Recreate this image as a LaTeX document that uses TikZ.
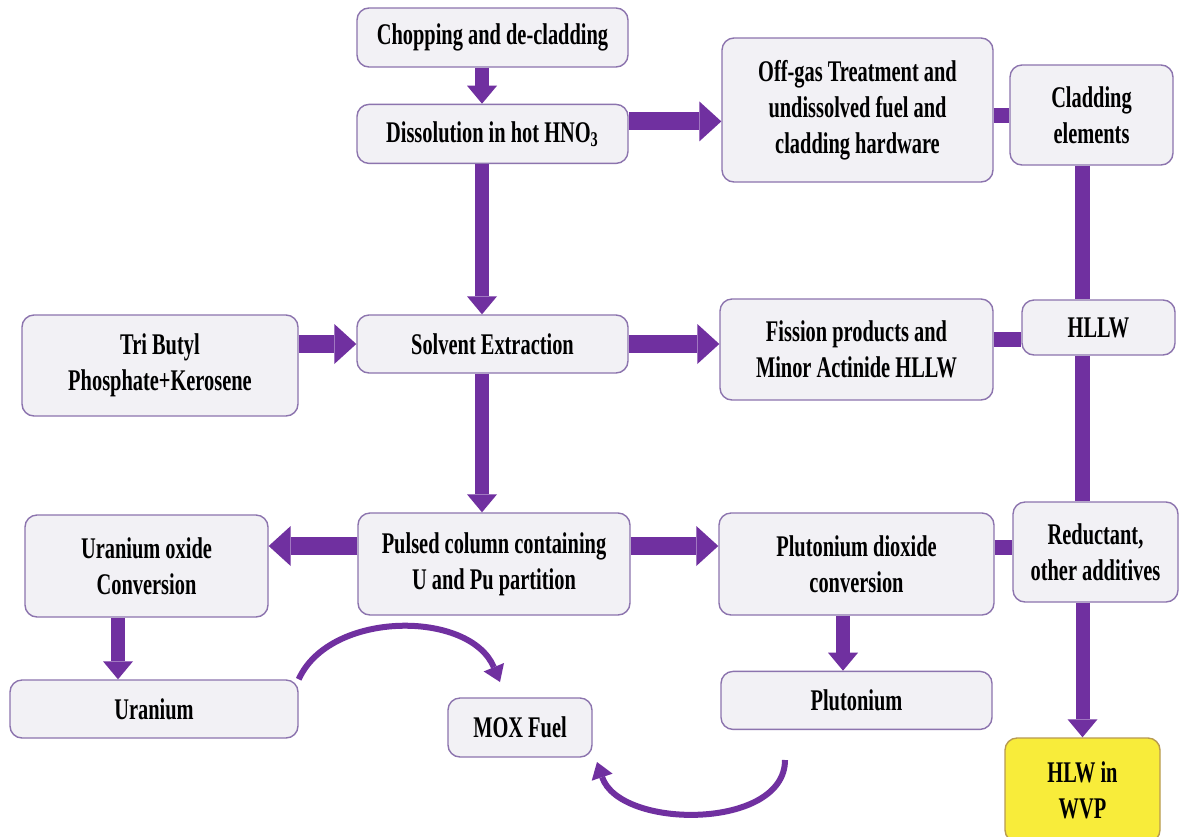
\documentclass[tikz,border=0pt]{standalone}
\usepackage{fontspec}
\setmainfont{Liberation Serif}[FakeStretch=0.68]
\usetikzlibrary{positioning,arrows.meta}
\definecolor{arr}{HTML}{7030A0}
\definecolor{boxline}{HTML}{8C74AE}
\definecolor{boxfill}{HTML}{F2F1F5}
\definecolor{hlwfill}{HTML}{F8EC3A}
\definecolor{hlwline}{HTML}{B89A50}

\begin{document}
\begin{tikzpicture}[x=0.5pt, y=-0.5pt,
  b/.style={draw=boxline, fill=boxfill, rounded corners=6pt, line width=0.7pt, align=center, inner sep=1pt, font=\fontsize{15}{18}\selectfont\bfseries},
  ha/.style={draw=arr, line width=9pt, -{Triangle[width=20pt, length=11pt, line width=0pt 0]}},
  va/.style={draw=arr, line width=7pt, -{Triangle[width=15pt, length=9pt, line width=0pt 0]}},
  bar/.style={draw=arr, line width=7.5pt},
  cv/.style={draw=arr, line width=3pt, -{Triangle[width=11pt, length=8pt, line width=0pt 0]}}]
		\path[use as bounding box, fill=white] (0,0) rectangle (1183,836);

		\node[b, minimum width=135.5pt, minimum height=29.5pt] (chop) at (492.5,37.5) {Chopping and de-cladding};
		\node[b, minimum width=135.5pt, minimum height=29.5pt, below=18pt of chop] (diss) {Dissolution in hot HNO\textsubscript{3}};
		\node[b, minimum width=135.5pt, minimum height=72pt] (offgas) at (857.5,110) {Off-gas Treatment and\\undissolved fuel and\\cladding hardware};
		\node[b, minimum width=81.5pt, minimum height=50pt] (clad) at (1091.5,115) {Cladding\\elements};
		\node[b, minimum width=138pt, minimum height=50.5pt] (tbp) at (160,365.5) {Tri Butyl\\Phosphate+Kerosene};
		\node[b, minimum width=135.5pt, minimum height=29pt] (solv) at (492.5,344) {Solvent Extraction};
		\node[b, minimum width=136.5pt, minimum height=50.5pt] (fiss) at (856.5,349.5) {Fission products and\\Minor Actinide HLLW};
		\node[b, minimum width=76.5pt, minimum height=27.5pt] (hllw) at (1098.5,327.5) {HLLW};
		\node[b, minimum width=121.5pt, minimum height=51pt] (unox) at (146.5,566) {Uranium oxide\\Conversion};
		\node[b, minimum width=136pt, minimum height=51pt] (pulsed) at (494,564) {Pulsed column containing\\U and Pu partition};
		\node[b, minimum width=137.5pt, minimum height=51pt] (puo2) at (856.5,564) {Plutonium dioxide\\conversion};
		\node[b, minimum width=82.5pt, minimum height=50pt] (red) at (1095.5,552) {Reductant,\\other additives};
		\node[b, minimum width=144pt, minimum height=29pt] (uran) at (154,709) {Uranium};
		\node[b, minimum width=72pt, minimum height=29.5pt] (mox) at (520,727.5) {MOX Fuel};
		\node[b, minimum width=135.5pt, minimum height=29pt, below=27.5pt of puo2] (plut) {Plutonium};
		\node[b, draw=hlwline, fill=hlwfill, minimum width=77.5pt, minimum height=52pt] (hlw) at (1082.5,790) {HLW in\\WVP};

		% offsets of the connectors
		\coordinate (c1) at ([xshift=-5.25pt]chop.south);
		\coordinate (d1) at ([xshift=-5.25pt]diss.south);
		\coordinate (d2) at ([yshift=6.25pt]diss.east);
		\coordinate (s1) at ([xshift=-5.25pt]solv.south);
		\coordinate (p1) at ([yshift=9pt]pulsed.west);
		\coordinate (p2) at ([yshift=9pt]pulsed.east);
		\coordinate (u1) at ([xshift=-14.25pt]unox.south);
		\coordinate (q1) at ([xshift=-6.75pt]puo2.south);
		\coordinate (f1) at ([yshift=-6pt]hllw.west);
		\coordinate (r1) at ([yshift=2.5pt]red.west);
		\coordinate (moxin) at (500,682);
		\coordinate (plout) at (785,760);
		\coordinate (moxin2) at (597,762);

		\draw[va] (c1) -- (c1 |- diss.north);
		\draw[ha] (d2) -- (d2 -| offgas.west);
		\draw[va] (d1) -- (d1 |- solv.north);
		\draw[ha] (tbp.east |- solv.west) -- (solv.west);
		\draw[ha] (solv.east) -- (solv.east -| fiss.west);
		\draw[va] (s1) -- (s1 |- pulsed.north);
		\draw[ha] (p1) -- (p1 -| unox.east);
		\draw[ha] (p2) -- (p2 -| puo2.west);
		\draw[va] (u1) -- (u1 |- uran.north);
		\draw[va] (q1) -- (q1 |- plut.north);

		\draw[bar] (offgas.east |- clad.west) -- (clad.west);
		\draw[bar] (f1 -| fiss.east) -- (f1);
		\draw[bar] (r1 -| puo2.east) -- (r1);
		\draw[bar] (clad.south -| hlw.north) -- (hllw.north -| hlw.north);
		\draw[bar] (hllw.south -| hlw.north) -- (red.north -| hlw.north);
		\draw[va] (red.south -| hlw.north) -- (hlw.north);

		\draw[cv] (uran.north east) .. controls (330,610) and (470,610) .. (moxin);
		\draw[cv] (plout) .. controls (785,830) and (620,830) .. (moxin2);
	\end{tikzpicture}
\end{document}
